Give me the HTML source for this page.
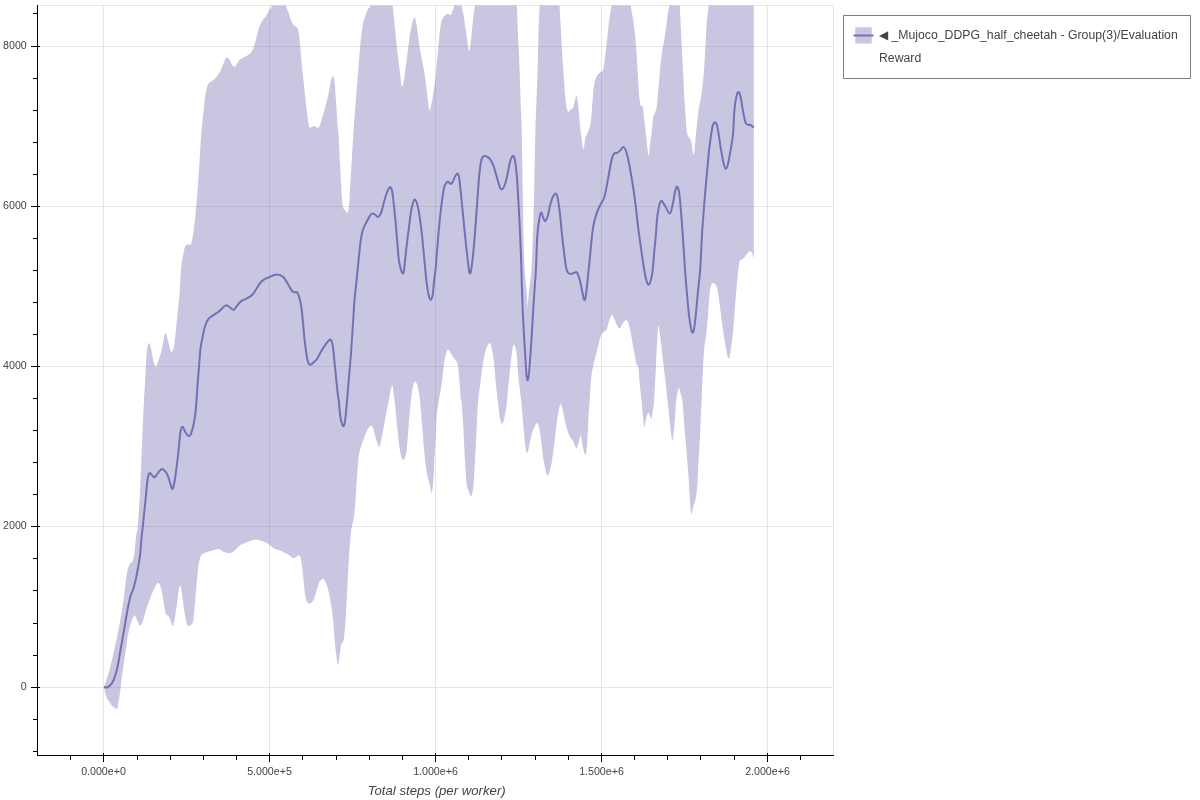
<!DOCTYPE html>
<html><head><meta charset="utf-8"><style>
html,body{margin:0;padding:0;background:#fff;width:1200px;height:800px;overflow:hidden;position:relative;font-family:"Liberation Sans", sans-serif}
</style></head><body>
<svg width="1200" height="800" viewBox="0 0 1200 800" style="position:absolute;left:0;top:0;will-change:transform">
<defs><clipPath id="fr"><rect x="37.5" y="5.5" width="796" height="750"/></clipPath></defs>
<rect x="37.5" y="5.5" width="796" height="750" fill="none" stroke="#e5e5e5" stroke-width="1"/>
<path d="M103.5 5.5V755.5M269.5 5.5V755.5M435.5 5.5V755.5M601.5 5.5V755.5M767.5 5.5V755.5M37.5 46.5H833.5M37.5 206.5H833.5M37.5 366.5H833.5M37.5 526.5H833.5M37.5 687.5H833.5" stroke="#e5e5e5" stroke-width="1" fill="none"/>
<g clip-path="url(#fr)">
<path d="M104 686.5 C104.1 686.4 104 687.4 104.5 686 C105 684.6 106.2 680.7 107 678 C107.8 675.3 108.8 672.7 109.5 670 C110.2 667.3 110.8 664.8 111.5 662 C112.2 659.2 112.8 656 113.5 653 C114.2 650 115 646.2 115.5 644 C116 641.8 116 642.4 116.5 640 C117 637.6 117.6 634.6 118.5 629.8 C119.4 625 120.8 617.3 121.8 611.4 C122.8 605.5 123.6 599.9 124.3 594.6 C125 589.3 125.4 583.8 126 579.6 C126.6 575.4 127 572.2 127.7 569.5 C128.4 566.8 129.4 565 130.2 563.6 C131 562.2 132 562.9 132.7 561.1 C133.4 559.3 133.8 557 134.4 552.8 C135 548.6 135.6 540.2 136.1 536 C136.6 531.8 137.1 533.2 137.7 527.6 C138.2 522 138.8 512.3 139.4 502.5 C140 492.7 140.4 481.6 141 469 C141.6 456.4 142.2 438.3 142.7 427.1 C143.2 415.9 143.5 409 143.9 402 C144.3 395 144.5 392 144.9 385.3 C145.3 378.6 145.7 368 146.1 361.8 C146.5 355.6 146.7 351.5 147.2 348.4 C147.7 345.3 148.4 343 149.1 343 C149.8 343 150.3 345.3 151.1 348.4 C151.8 351.5 152.8 358.7 153.6 361.8 C154.4 364.9 155 367.1 155.8 366.8 C156.6 366.5 157.6 363.2 158.6 360.1 C159.6 357 161 352.6 162 348.4 C163 344.2 163.8 337.4 164.5 335 C165.2 332.6 165.5 332.8 166.2 334.2 C166.9 335.6 167.9 340.5 168.7 343.4 C169.5 346.3 170.5 350.7 171.2 351.8 C171.9 352.9 172.3 351.5 172.9 350.1 C173.5 348.7 173.9 347.3 174.5 343.4 C175.1 339.5 175.6 332.2 176.2 326.6 C176.8 321 177.3 315.5 177.9 309.9 C178.5 304.3 179.1 300.1 179.6 293.1 C180.1 286.1 180.6 274.1 181.2 268 C181.8 261.9 182.3 259.7 182.9 256.3 C183.5 253 183.9 249.9 184.6 247.9 C185.3 245.9 186.1 245.2 187.1 244.6 C188.1 244 189.7 245.2 190.5 244.6 C191.3 244 191.2 243.7 191.8 241.2 C192.4 238.7 193.1 235.4 193.8 229.5 C194.6 223.6 195.6 213.5 196.3 206 C197 198.5 197.4 192.1 198 184.3 C198.6 176.5 199.1 167.5 199.7 159.1 C200.2 150.7 200.6 142.7 201.3 134 C202 125.3 203.2 113.9 203.9 107.2 C204.6 100.5 204.8 97.6 205.5 93.8 C206.2 90 207.2 86.5 208 84.6 C208.8 82.6 209.3 83.2 210.6 82.1 C211.9 81 214.1 79.6 215.6 77.9 C217.1 76.2 218.6 74.2 219.8 72 C221.1 69.8 222.1 66.7 223.1 64.5 C224.1 62.3 224.8 59.8 225.6 58.6 C226.3 57.4 226.9 57.2 227.6 57.5 C228.3 57.8 229 59 229.8 60.3 C230.6 61.6 231.6 64.2 232.3 65.3 C233.1 66.4 233.6 67.1 234.3 67 C235 66.9 235.7 65.6 236.5 64.5 C237.3 63.4 238 61.7 239 60.6 C240 59.5 241.1 58.9 242.4 58.1 C243.7 57.4 245.2 57 246.6 56.1 C248 55.2 249.7 54 250.8 52.8 C251.9 51.5 252.5 50.7 253.3 48.6 C254.1 46.5 255 43.3 255.8 40.2 C256.6 37.1 257.5 33 258.3 30.2 C259.1 27.4 260 25.3 260.8 23.5 C261.6 21.7 262.3 20.7 263.3 19.3 C264.3 17.9 265.7 16.6 266.7 15.1 C267.7 13.5 268.4 11.6 269.2 10 C270 8.4 270.9 9.6 271.7 5.4 C272.5 1.2 272.1 -11.6 274 -15 C275.9 -18.4 281 -18.4 283 -15 C285 -11.6 285 1 285.9 5.4 C286.8 9.9 287.6 9.2 288.4 11.7 C289.2 14.1 290 17.9 290.9 20.1 C291.8 22.3 292.5 23.9 293.5 25.1 C294.5 26.4 296 26.5 296.8 27.6 C297.6 28.7 298 29.1 298.5 31.8 C299 34.5 299.5 38.3 300 43.6 C300.5 48.9 301 56.5 301.7 63.7 C302.4 71 303.4 79.3 304.2 87.1 C305 94.9 305.9 104 306.7 110.6 C307.5 117.2 308.5 123.7 309.2 126.5 C309.9 129.3 310.1 127.4 310.9 127.3 C311.7 127.2 313.2 126 314.2 126 C315.2 126 316.1 127 316.8 127.3 C317.5 127.6 317.7 128.9 318.4 128.1 C319.1 127.3 319.8 125.8 320.9 122.3 C322 118.8 323.8 112 325.1 107.2 C326.4 102.5 327.5 98.3 328.5 93.8 C329.5 89.3 330.3 83.3 331 80.4 C331.7 77.5 332.1 76.2 332.7 76.2 C333.2 76.2 333.8 76.4 334.3 80.4 C334.9 84.5 335.4 92.7 336 100.5 C336.6 108.3 337.3 121.7 337.7 127.3 C338.1 132.9 338.1 127.3 338.5 134 C338.9 140.7 339.6 156.9 340.2 167.5 C340.8 178.1 341.4 191 341.9 197.7 C342.4 204.4 342.6 205.6 343.2 207.7 C343.8 209.8 344.5 209.4 345.2 210.2 C345.9 211 346.8 213.4 347.4 212.7 C348 212 348.6 210.7 349.1 206 C349.6 201.3 349.8 192.1 350.3 184.3 C350.8 176.5 351.4 167.5 351.9 159.1 C352.4 150.7 352.7 142.7 353.3 134 C353.9 125.3 354.6 117 355.3 107.2 C356.1 97.4 357 85.7 357.8 75.4 C358.6 65.1 359.5 53.6 360.3 45.2 C361.1 36.8 362 30 362.8 25.1 C363.6 20.2 364.5 18.6 365.3 15.9 C366.1 13.2 367 10.9 367.8 9.2 C368.6 7.4 369.5 9.4 370.4 5.4 C371.3 1.4 369.7 -11.6 373 -15 C376.3 -18.4 386.7 -18.4 390 -15 C393.3 -11.6 392 0.1 392.6 5.4 C393.2 10.7 393.3 12.1 393.8 16.8 C394.3 21.5 394.9 27.9 395.5 33.5 C396.1 39.1 396.5 44.1 397.2 50.3 C397.9 56.4 398.9 64.4 399.7 70.4 C400.5 76.4 401.1 84.6 401.8 86.3 C402.5 88 403.1 84.5 403.9 80.4 C404.7 76.4 405.6 68.4 406.4 62 C407.2 55.6 408.1 47.8 408.9 41.9 C409.7 36 410.5 30.9 411.4 26.8 C412.3 22.7 413.4 17.9 414.2 17.3 C415 16.8 415.6 19.4 416.4 23.5 C417.2 27.6 418.1 36.3 418.9 41.9 C419.7 47.5 420.5 52.2 421.4 57 C422.2 61.8 423.1 65.1 424 70.4 C424.9 75.7 425.7 82.4 426.5 88.8 C427.3 95.2 428.3 105.8 429 108.9 C429.7 112 430 109.7 430.7 107.2 C431.4 104.7 432.4 99.1 433.2 93.8 C434 88.5 434.9 82.9 435.7 75.4 C436.5 67.9 437.4 57 438.2 48.6 C439 40.2 439.9 30.3 440.7 25.1 C441.5 19.9 442.2 19.4 443.2 17.6 C444.2 15.8 445.6 14.8 446.6 14.2 C447.6 13.6 448.4 14 449.1 14.2 C449.8 14.3 450.3 15.5 450.8 15.1 C451.3 14.7 451.6 13.3 452.1 11.7 C452.7 10.1 453.5 9.9 454.1 5.4 C454.8 1 455 -11.6 456 -15 C457 -18.4 459.1 -18.4 460 -15 C460.9 -11.6 461.1 0.7 461.6 5.4 C462.2 10.1 462.6 9.3 463.3 13.4 C464 17.5 465.1 25.4 465.8 30.2 C466.5 35 466.9 38.4 467.5 41.9 C468.1 45.4 468.8 52.5 469.5 51.1 C470.2 49.7 471.1 39.2 471.7 33.5 C472.3 27.8 472.8 21.5 473.4 16.8 C473.9 12.1 474.4 10.7 475 5.4 C475.6 0.1 470.3 -11.6 477 -15 C483.7 -18.4 508.4 -18.4 515 -15 C521.6 -11.6 516.4 -1.3 516.8 5.4 C517.2 12.1 517.3 17.6 517.6 25.1 C517.9 32.6 518.4 41.9 518.8 50.3 C519.2 58.7 519.4 65.6 519.8 75.4 C520.1 85.2 520.6 99.1 520.9 108.9 C521.2 118.7 521.5 121.4 521.8 134 C522.1 146.6 522.3 167.6 522.6 184.3 C522.9 201.1 523.2 220.6 523.5 234.5 C523.8 248.4 524 258.2 524.5 268 C525 277.8 526.3 286.7 526.8 293.1 C527.3 299.5 527.3 306.5 527.6 306.5 C527.9 306.5 528.1 299.5 528.8 293.1 C529.4 286.7 530.7 280.6 531.5 268 C532.3 255.4 533 231.8 533.5 217.8 C534 203.9 534 198.3 534.3 184.3 C534.6 170.3 534.9 148 535.3 134 C535.7 120 536.1 111.7 536.5 100.5 C536.9 89.3 537.4 78.2 537.7 67 C538 55.8 538.2 43.8 538.5 33.5 C538.8 23.2 539.3 13.5 539.7 5.4 C540.1 -2.7 538 -11.6 541 -15 C544 -18.4 554.9 -18.4 558 -15 C561.1 -11.6 559.1 -1.3 559.5 5.4 C559.9 12.1 560.2 17.6 560.6 25.1 C561 32.6 561.5 41.9 562 50.3 C562.5 58.7 563.1 67 563.7 75.4 C564.3 83.8 565 94.5 565.7 100.5 C566.4 106.5 567 109.9 567.8 111.4 C568.6 112.9 569.5 110.3 570.4 109.7 C571.2 109.1 572.2 109.2 572.9 108 C573.6 106.8 573.9 104.2 574.5 102.2 C575.1 100.2 576 95 576.6 95.8 C577.2 96.6 577.8 102 578.4 107.2 C579 112.5 579.7 122.8 580.1 127.3 C580.5 131.8 580.5 130.4 581 134 C581.5 137.6 582.7 148.5 583.4 149.1 C584.1 149.7 584.8 139.9 585.4 137.4 C586 134.9 586.2 136.2 587.1 134 C588 131.8 589.7 128.5 590.5 124 C591.3 119.5 591.6 113.4 592.1 107.2 C592.6 101 593.1 92.1 593.8 87.1 C594.5 82.1 595.2 79.6 596.3 77.1 C597.4 74.6 599.4 73.1 600.5 72 C601.6 70.9 602.3 72.4 603 70.4 C603.7 68.5 604 65.6 604.7 60.3 C605.4 55 606.5 45.2 607.2 38.5 C608 31.8 608.5 25.6 609.2 20.1 C609.9 14.6 610.8 11.2 611.4 5.4 C612 -0.5 610.1 -11.6 613 -15 C615.9 -18.4 626 -18.4 629 -15 C632 -11.6 630 -0.5 630.7 5.4 C631.4 11.2 632.4 14 633.2 20.1 C634 26.2 635 34.1 635.7 41.9 C636.4 49.7 636.9 58.4 637.4 67 C637.9 75.7 638.5 87.4 639 93.8 C639.5 100.2 640.1 103.4 640.7 105.5 C641.3 107.6 642.2 104.4 642.7 106.4 C643.2 108.4 643.5 112.7 644 117.3 C644.5 121.9 645.1 127.6 645.9 134 C646.7 140.4 647.9 154.7 648.6 155.8 C649.4 156.9 649.9 144.3 650.4 140.7 C650.9 137.1 651.1 137.9 651.6 134 C652.1 130.1 652.5 121.8 653.3 117.3 C654.1 112.8 655.6 113.3 656.6 107.2 C657.6 101.1 658.3 89.1 659.1 80.4 C659.9 71.8 660.6 62.8 661.6 55.3 C662.6 47.8 664 41.6 665 35.2 C666 28.8 666.8 21.8 667.5 16.8 C668.2 11.8 668.6 10.7 669.2 5.4 C669.8 0.1 669.5 -11.6 671 -15 C672.5 -18.4 676.5 -18.4 678 -15 C679.5 -11.6 679.2 -1.9 679.7 5.4 C680.2 12.7 680.4 19.6 680.9 29 C681.4 38.4 682 50.8 682.6 62 C683.2 73.2 683.8 86.2 684.3 96 C684.8 105.8 685.4 114.3 685.9 120.6 C686.4 126.9 686.4 130.7 687.3 134 C688.1 137.3 690 137.2 691 140.7 C692 144.2 692.8 154.3 693.5 154.9 C694.2 155.5 694.7 147.5 695.1 144 C695.5 140.5 695.4 139.5 696 134 C696.6 128.5 697.7 117.1 698.5 111 C699.3 104.9 700.1 103.1 701 97.2 C701.9 91.3 702.9 83.2 703.6 75.4 C704.3 67.6 704.7 59.2 705.2 50.3 C705.8 41.4 706.3 29.3 706.9 21.8 C707.5 14.3 708.1 11.5 708.6 5.4 C709.1 -0.7 702.5 -11.6 710 -15 C717.5 -18.4 746.5 -15 753.8 -15 L753.8 259.1 C753.5 258.2 752.8 254.8 752.2 253.5 C751.6 252.2 751.2 251 750.4 251 C749.6 251 748.3 252.3 747.2 253.5 C746.1 254.7 744.8 257 743.8 258.1 C742.8 259.2 741.8 259.1 741 260 C740.2 260.9 739.8 259.4 739.1 263.8 C738.4 268.2 737.4 278.8 736.7 286.3 C736 293.8 735.4 301 734.8 308.8 C734.2 316.6 733.6 326.3 732.9 333.2 C732.2 340.1 731.5 345.8 730.7 350 C730 354.2 729.4 359.7 728.4 358.5 C727.4 357.3 726 348.4 725 342.6 C724 336.8 723.1 330.1 722.2 323.8 C721.3 317.5 720.6 310.6 719.8 305 C719 299.4 718.2 293.4 717.5 290 C716.8 286.6 716.2 285.5 715.3 284.4 C714.4 283.3 713.2 282.6 712.3 283.5 C711.4 284.4 710.7 284.9 710 290 C709.3 295.1 708.7 307.2 708.1 314.4 C707.5 321.6 707 326.9 706.3 333.2 C705.6 339.5 704.6 344.2 704 352 C703.4 359.8 702.9 371.7 702.5 380 C702.1 388.3 701.8 396.9 701.6 402 C701.4 407.1 701.4 404.8 701.1 410.4 C700.8 416 700.4 427.1 700 435.5 C699.6 443.9 699.1 452.2 698.6 460.6 C698.1 469 697.8 479.4 697.3 485.8 C696.8 492.2 696.3 495.9 695.6 499.2 C694.9 502.5 694 503.4 693.3 505.9 C692.6 508.4 692 515.3 691.4 514.2 C690.8 513.1 690.4 505.3 689.9 499.2 C689.4 493.1 689.1 485.2 688.6 477.4 C688.1 469.6 687.3 460.7 686.6 452.3 C685.9 443.9 685.1 435.5 684.4 427.1 C683.7 418.7 683.2 407.6 682.6 402 C682 396.4 681.2 396 680.6 393.6 C680 391.2 679.4 388.1 678.9 387.8 C678.4 387.5 678.1 389.6 677.6 392 C677.1 394.4 676.4 398.9 676 402 C675.6 405.1 675.8 406.2 675.5 410.4 C675.2 414.6 674.8 422.1 674.2 427.1 C673.7 432.1 673 441.9 672.2 440.5 C671.4 439.1 670.2 425.2 669.5 418.8 C668.8 412.4 668.5 409 667.7 402 C667 395 665.9 384.4 665 376.9 C664.1 369.4 663.3 363.8 662.5 356.8 C661.7 349.8 660.7 340.2 660 335 C659.3 329.8 658.9 325.8 658.5 325.8 C658.1 325.8 658 327.9 657.5 335 C657 342.1 656.4 357.3 655.8 368.5 C655.2 379.7 654.5 395 654 402 C653.5 409 653.2 407.6 652.8 410.4 C652.4 413.2 652.1 418 651.6 418.8 C651.1 419.6 650.5 416.4 649.9 415.4 C649.3 414.4 648.8 412.6 648.2 412.9 C647.7 413.2 647.2 414.8 646.6 417.1 C646 419.4 645 426.5 644.4 426.8 C643.8 427.1 643.7 422.9 643.2 418.8 C642.8 414.7 642.2 407.6 641.7 402 C641.2 396.4 640.5 391.2 639.9 385.3 C639.3 379.4 638.8 370.3 638.2 366.8 C637.6 363.3 637.1 366.2 636.5 364.3 C635.9 362.4 635.5 358.9 634.8 355.1 C634.1 351.3 633.1 346.2 632.3 341.7 C631.5 337.2 630.6 331.8 629.8 328.3 C629 324.8 628.1 322.1 627.3 320.8 C626.5 319.6 625.6 320.2 624.8 320.8 C624 321.4 623.1 322.9 622.3 324.1 C621.5 325.4 620.6 328 619.8 328.3 C619 328.6 618.1 327.2 617.3 325.8 C616.4 324.4 615.6 321.7 614.7 319.9 C613.9 318.1 612.9 315.4 612.2 314.9 C611.5 314.3 611.2 315.2 610.6 316.6 C610 318 609.2 321.1 608.5 323.3 C607.8 325.5 607.2 328.6 606.4 330 C605.6 331.4 604.8 330.9 603.9 331.7 C603 332.5 602.1 333.1 601.3 335 C600.4 336.9 599.6 340.3 598.8 343.4 C598 346.5 597.1 350 596.3 353.4 C595.5 356.8 594.6 359.6 593.8 363.5 C593 367.4 592 370.5 591.3 376.9 C590.6 383.3 590.1 395 589.6 402 C589.1 409 588.8 411.8 588.4 418.8 C588 425.8 587.6 437.9 587.1 443.9 C586.6 449.9 586.1 454.2 585.4 454.8 C584.7 455.4 583.7 450.4 582.9 447.2 C582.1 444 581.4 436.3 580.7 435.5 C580 434.7 579.4 440.1 578.7 442.2 C578 444.3 577.3 447.5 576.7 448.1 C576.1 448.7 575.5 446.9 574.9 445.6 C574.3 444.3 573.7 441.9 572.9 440.5 C572.1 439.1 571 439.1 570 437.2 C569 435.2 567.9 431.9 567 428.8 C566.1 425.7 565.3 422.4 564.5 418.8 C563.7 415.2 562.7 409.4 562 407 C561.3 404.6 561 403.1 560.3 404.5 C559.6 405.9 558.6 410.2 557.8 415.4 C557 420.6 556.1 428.8 555.3 435.5 C554.5 442.2 553.6 450 552.8 455.6 C552 461.2 551.1 465.7 550.3 469 C549.5 472.3 548.8 474.8 548.1 475.4 C547.4 476 546.9 474.9 546.1 472.4 C545.4 469.9 544.4 465.4 543.6 460.6 C542.8 455.9 542.2 449.2 541.5 443.9 C540.8 438.6 540.1 432.3 539.4 428.8 C538.7 425.3 537.9 423.4 537.2 422.9 C536.5 422.3 536.1 423.7 535.2 425.5 C534.3 427.3 532.8 430.4 531.8 433.8 C530.8 437.2 530.1 442.4 529.3 445.6 C528.5 448.8 527.8 453.4 527.1 453.1 C526.4 452.8 525.7 448.2 525.1 443.9 C524.5 439.6 524.1 434.1 523.5 427.1 C522.9 420.1 522.1 410.4 521.3 402 C520.4 393.6 519.1 384.7 518.4 376.9 C517.6 369.1 517.4 360.4 516.8 355.1 C516.2 349.8 515.3 346.2 514.6 345.1 C513.9 344 513.4 344.5 512.6 348.4 C511.9 352.3 511.1 359.6 510.1 368.5 C509.2 377.4 507.5 395.6 506.9 402 C506.3 408.4 506.8 404.2 506.4 407 C505.9 409.8 504.9 416 504.2 418.8 C503.5 421.6 502.7 423.8 502 423.8 C501.3 423.8 500.7 422.4 500 418.8 C499.3 415.2 498.7 407.6 498 402 C497.3 396.4 496.6 391.4 496 385.3 C495.4 379.2 495 371.4 494.3 365.2 C493.6 359 492.6 352.1 491.8 348.4 C491 344.7 490.3 342.7 489.3 343 C488.3 343.3 487 346.4 485.9 350.1 C484.8 353.8 483.6 359.3 482.6 365.2 C481.6 371.1 480.9 379.2 480.1 385.3 C479.3 391.4 478.6 395 478 402 C477.4 409 477.2 417.3 476.7 427.1 C476.2 436.9 475.6 450.8 475 460.6 C474.4 470.4 474 479.9 473.4 485.8 C472.8 491.7 471.9 495 471.2 496.1 C470.5 497.2 469.9 494.5 469.2 492.5 C468.4 490.5 467.4 489.4 466.7 484.1 C466 478.8 465.6 470.1 465 460.6 C464.4 451.1 463.9 436.9 463.3 427.1 C462.7 417.3 462 406.7 461.6 402 C461.2 397.3 461.2 402.9 460.8 398.7 C460.4 394.5 459.7 382.8 459.1 376.9 C458.6 371 458.3 366.6 457.5 363.5 C456.7 360.4 455.2 360.2 454.1 358.5 C453 356.8 451.8 354.9 450.8 353.4 C449.8 351.9 449 349.6 448.2 349.6 C447.4 349.6 446.8 351.1 446.1 353.4 C445.4 355.7 444.9 358.2 444.1 363.5 C443.3 368.8 442.4 378.9 441.5 385.3 C440.6 391.7 439.4 396.4 438.6 402 C437.8 407.6 437.1 410.4 436.5 418.8 C435.9 427.2 435.4 441.7 434.8 452.3 C434.2 462.9 433.8 475.7 433.2 482.4 C432.6 489.1 432.1 492.5 431.5 492.5 C430.9 492.5 430.1 485.5 429.3 482.4 C428.6 479.3 427.8 479 427 474 C426.2 469 425.1 460.1 424.3 452.3 C423.5 444.5 423 435.5 422.3 427.1 C421.6 418.7 420.9 408.4 420.2 402 C419.5 395.6 418.9 392 418.1 388.6 C417.3 385.2 416.4 382.2 415.6 381.6 C414.8 381.1 413.9 381.9 413.1 385.3 C412.3 388.7 411.6 395 410.8 402 C410 409 409.2 418.7 408.5 427.1 C407.8 435.5 407.3 446.9 406.4 452.3 C405.5 457.8 404.1 460.4 403 459.8 C401.9 459.2 400.7 454.3 399.7 448.9 C398.7 443.4 398 434.9 397.2 427.1 C396.4 419.3 395.4 407.3 394.8 402 C394.2 396.7 394.2 397.9 393.8 395.3 C393.4 392.7 393.1 387.2 392.6 386.1 C392.1 385 391.7 386 391 388.6 C390.3 391.2 389.2 398.6 388.6 402 C388 405.4 387.8 405.3 387.1 408.7 C386.4 412.1 385.4 417.6 384.6 422.1 C383.8 426.6 382.9 431.4 382.1 435.5 C381.3 439.6 380.4 445.3 379.6 446.4 C378.8 447.5 378.1 444.8 377.1 442.2 C376.1 439.6 374.7 433.3 373.7 430.5 C372.7 427.7 372.3 425.5 371.2 425.5 C370.1 425.5 368.2 428.3 367 430.5 C365.8 432.7 364.8 436 363.7 438.9 C362.6 441.8 361.5 445 360.6 448.1 C359.8 451.2 359.2 452.4 358.6 457.3 C358 462.2 357.6 469.9 357 477.4 C356.4 484.9 355.9 495.5 355.3 502.5 C354.7 509.5 354.2 515.4 353.6 519.3 C353 523.2 352.4 523.2 351.9 526 C351.4 528.8 351 532.1 350.6 536 C350.2 539.9 349.9 543.8 349.5 549.4 C349.1 555 348.7 562 348.3 569.5 C347.9 577 347.4 586.8 347 594.6 C346.6 602.4 346.2 610 345.8 616.4 C345.4 622.8 344.9 629 344.5 633.2 C344.1 637.4 343.9 639.5 343.3 641.5 C342.7 643.5 341.7 642.4 341.1 644.9 C340.5 647.4 340 653.2 339.5 656.6 C339 660 338.7 665.5 338.1 665 C337.5 664.5 336.7 658 336.1 653.3 C335.5 648.5 334.9 642.6 334.4 636.5 C333.8 630.4 333.5 622.5 332.8 616.4 C332.1 610.3 331.2 604.5 330.3 599.7 C329.4 595 328.6 591 327.7 587.9 C326.8 584.8 326 582.7 325.2 581.2 C324.4 579.7 323.7 578.6 322.7 578.7 C321.7 578.9 320.4 580.3 319.4 582.1 C318.4 583.9 317.8 587 316.9 589.6 C316 592.2 315.1 595.9 314.3 598 C313.5 600.1 312.9 601.4 311.8 602.2 C310.7 603 308.7 604.3 307.6 603 C306.5 601.7 305.8 598.5 305.1 594.6 C304.4 590.7 304.1 584.6 303.5 579.6 C302.9 574.6 302.4 568.5 301.8 564.5 C301.2 560.5 300.6 557.1 299.8 555.8 C299 554.4 297.9 556 296.8 556.4 C295.7 556.8 294.7 558.3 293.4 558.1 C292.1 557.9 290.7 556.2 289.2 555.3 C287.7 554.3 285.9 553.2 284.3 552.4 C282.7 551.5 281 550.8 279.3 550.2 C277.6 549.6 275.8 549.4 274.3 548.6 C272.8 547.8 271.5 546.2 270.1 545.2 C268.7 544.2 267.4 543.1 265.9 542.4 C264.4 541.6 262.6 541.2 260.9 540.7 C259.2 540.2 257.5 539.7 255.8 539.7 C254.1 539.7 252.5 540.2 250.8 540.7 C249.1 541.2 247.5 542 245.8 542.7 C244.1 543.4 242.2 543.9 240.8 544.7 C239.4 545.5 238.5 546.6 237.4 547.7 C236.3 548.8 235.1 550.2 234 551.1 C232.9 552 231.9 552.8 230.7 553.1 C229.4 553.4 227.9 553.1 226.5 552.8 C225.1 552.5 223.6 551.7 222.3 551.1 C221.1 550.5 220.4 549.2 219 549.1 C217.6 549 215.9 549.7 214 550.2 C212.1 550.7 209.3 551.2 207.3 551.9 C205.3 552.6 203.2 553.1 201.9 554.4 C200.6 555.7 200.3 557 199.7 559.5 C199 562 198.6 565 198 569.5 C197.4 574 197 580.1 196.4 586.3 C195.8 592.4 195.3 600.5 194.7 606.4 C194.1 612.2 193.8 618.2 193 621.4 C192.2 624.6 190.7 625 189.7 625.6 C188.7 626.2 188 626.9 187.2 624.8 C186.3 622.7 185.4 618.1 184.6 613.1 C183.8 608.1 182.8 599.2 182.1 594.6 C181.4 590 181.1 586.2 180.5 585.4 C179.9 584.6 179.4 586.7 178.8 589.6 C178.2 592.5 177.8 598 177.1 603 C176.4 608 175.3 615.9 174.6 619.8 C173.8 623.6 173.3 626.1 172.6 626.1 C171.9 626.1 171.2 621.5 170.4 619.8 C169.6 618 168.6 616.5 167.9 615.6 C167.2 614.8 166.8 616 166.2 614.7 C165.6 613.4 165.1 611.4 164.5 608 C163.9 604.6 163.1 598.2 162.4 594.6 C161.7 591 161.2 588.2 160.4 586.3 C159.6 584.3 158.8 582.6 157.8 582.9 C156.8 583.2 155.8 585.4 154.5 587.9 C153.2 590.4 151.7 594.4 150.3 598 C148.9 601.6 147.3 605.8 146.1 609.7 C144.8 613.6 143.8 618.8 142.8 621.4 C141.8 624 141.2 625.6 140.3 625.6 C139.5 625.6 138.5 623 137.7 621.4 C136.8 619.8 135.9 616.9 135.2 616.1 C134.5 615.3 134.3 615.2 133.6 616.4 C132.9 617.6 132 619.8 131 623.1 C130 626.5 128.4 632.7 127.7 636.5 C127 640.3 126.9 643.4 126.5 646 C126.1 648.6 125.9 649.3 125.5 652 C125.1 654.7 124.5 658.7 124 662 C123.5 665.3 122.9 669 122.5 672 C122.1 675 121.8 677.2 121.5 680 C121.2 682.8 120.8 686.3 120.5 689 C120.2 691.7 119.8 693.8 119.5 696 C119.2 698.2 118.8 700 118.5 702 C118.2 704 117.8 706.9 117.5 708 C117.2 709.1 117 708.8 116.5 708.8 C116 708.8 115.3 708.6 114.5 708 C113.7 707.4 112.5 706.2 111.5 705 C110.5 703.8 109.4 702.5 108.5 701 C107.6 699.5 106.7 698 106 696 C105.3 694 104.8 690.4 104.5 689 C104.2 687.6 104.1 687.8 104 687.5Z" fill="#7570b3" fill-opacity="0.4" stroke="none"/>
<path d="M104 687 C104.3 687.1 105.3 687.5 106 687.5 C106.7 687.5 107.3 687.3 108 687 C108.7 686.7 109.3 686.2 110 685.5 C110.7 684.8 111.3 684.1 112 683 C112.7 681.9 113.3 680.7 114 679 C114.7 677.3 115.4 675 116 673 C116.6 671 117 669.3 117.5 667 C118 664.7 118.5 661.8 119 659 C119.5 656.2 120 652.7 120.5 650 C121 647.3 121.3 645.8 121.8 643 C122.3 640.2 122.9 636.5 123.5 633.2 C124.1 629.9 124.6 626.5 125.2 623.1 C125.8 619.8 126.3 616.5 126.9 613.1 C127.5 609.8 128.2 606.1 128.9 603 C129.6 599.9 130.2 597.1 131 594.6 C131.8 592.1 132.8 590.7 133.6 587.9 C134.4 585.1 135.3 581.8 136.1 577.9 C136.9 574 137.9 568.7 138.6 564.5 C139.3 560.3 139.8 557.5 140.3 552.8 C140.8 548 141.3 540.2 141.7 536 C142.1 531.8 142.2 531.8 142.7 527.6 C143.1 523.4 143.8 516.5 144.4 510.9 C145 505.3 145.6 499.4 146.1 494.1 C146.6 488.8 147.1 482.5 147.7 479 C148.2 475.5 148.7 473.9 149.4 473.2 C150.1 472.5 151.1 474.2 151.9 474.9 C152.7 475.6 153.4 477.7 154.4 477.4 C155.4 477.1 156.7 474.5 157.8 473.2 C158.9 471.9 160.1 469.9 161.1 469.3 C162.1 468.7 162.7 469 163.7 469.8 C164.7 470.6 165.9 471.9 167 474 C168.1 476.1 169.2 479.9 170 482.4 C170.8 484.9 171.4 488.2 172 488.8 C172.6 489.4 173.1 488.3 173.7 485.8 C174.3 483.3 175.1 478.2 175.7 474 C176.3 469.8 176.9 464.8 177.4 460.6 C177.9 456.4 178.2 453.6 178.7 448.9 C179.2 444.2 179.8 435.9 180.4 432.2 C181.1 428.5 181.8 426.8 182.6 426.8 C183.4 426.8 184.4 430.7 185.4 432.2 C186.4 433.7 187.5 435.4 188.3 435.8 C189.2 436.2 189.7 436.1 190.5 434.7 C191.3 433.2 192.2 430.3 193 427.1 C193.8 423.9 194.5 419.6 195.1 415.4 C195.7 411.2 196 407 196.4 402 C196.8 397 197.1 390.9 197.5 385.3 C197.9 379.7 198.4 374.6 198.9 368.5 C199.4 362.4 199.8 354 200.5 348.4 C201.2 342.8 202.2 338.9 203 335 C203.8 331.1 204.5 327.8 205.5 325 C206.5 322.2 207.5 320 208.9 318.3 C210.3 316.6 212.2 316 213.9 314.9 C215.6 313.8 217.4 312.9 218.9 311.6 C220.4 310.4 221.8 308.5 223.1 307.4 C224.4 306.3 225.4 305.2 226.5 305.2 C227.6 305.2 228.6 306.6 229.8 307.4 C231 308.2 232.6 310 233.7 309.9 C234.8 309.8 235.3 307.9 236.5 306.5 C237.7 305.1 239.2 302.8 240.7 301.5 C242.2 300.2 243.9 300 245.7 299 C247.5 298 249.9 297.1 251.6 295.6 C253.3 294.1 254.4 291.9 255.8 289.8 C257.2 287.7 258.6 284.8 260 283.1 C261.4 281.4 262.7 280.4 264.2 279.4 C265.7 278.4 267.5 277.9 269.2 277.2 C270.9 276.5 272.7 275.4 274.2 275 C275.7 274.6 277 274.5 278.4 274.7 C279.8 274.9 281.4 275.4 282.6 276.4 C283.9 277.4 284.8 278.9 285.9 280.6 C287 282.3 288.2 284.6 289.3 286.4 C290.4 288.2 291.5 290.5 292.6 291.5 C293.7 292.5 295.1 292 296 292.3 C296.9 292.6 297 291.8 297.7 293.1 C298.4 294.4 299.3 297.2 300 300 C300.7 302.8 301.1 305.5 301.7 309.9 C302.3 314.3 302.8 321 303.4 326.6 C303.9 332.2 304.3 337.8 305 343.4 C305.7 349 306.6 356.5 307.5 360.1 C308.4 363.7 309.1 364.4 310.1 364.8 C311.1 365.2 312.3 363.5 313.4 362.6 C314.5 361.7 315.6 361.1 316.8 359.3 C318.1 357.5 319.5 354.2 320.9 351.8 C322.3 349.4 323.8 346.9 325.1 345.1 C326.4 343.3 327.6 341.8 328.5 340.9 C329.4 340 330 339 330.7 339.7 C331.4 340.4 332.1 341.7 332.7 345.1 C333.3 348.5 333.8 354.8 334.3 360.1 C334.9 365.4 335.4 371.3 336 376.9 C336.6 382.5 337.2 389.4 337.7 393.6 C338.2 397.8 338.5 398.4 338.9 402 C339.3 405.6 339.8 412 340.2 415.4 C340.6 418.8 341.1 420.7 341.6 422.5 C342.1 424.3 342.7 426.3 343.2 426.3 C343.7 426.3 344.4 424.6 344.8 422.5 C345.2 420.4 345.5 417.4 345.8 414 C346.1 410.6 346.5 406.8 346.9 402 C347.3 397.2 347.9 390.3 348.3 385 C348.8 379.7 349.1 375.5 349.6 370 C350.1 364.5 350.6 359 351.1 351.8 C351.6 344.6 352.2 335 352.8 326.6 C353.4 318.2 353.8 308.5 354.4 301.5 C354.9 294.5 355.5 290.4 356.1 284.8 C356.7 279.2 357.2 273.5 357.8 268 C358.4 262.5 358.9 256.5 359.4 252 C359.9 247.5 360.1 244.2 360.6 241 C361.1 237.8 361.6 235 362.2 232.5 C362.8 230 363.7 227.9 364.5 226 C365.3 224.1 366 222.9 367 221.1 C368 219.3 369.4 216.4 370.4 215.2 C371.4 213.9 372.1 213.6 372.9 213.6 C373.7 213.6 374.5 214.3 375.4 214.9 C376.3 215.5 377.2 217.3 378.2 216.9 C379.2 216.5 380.3 215.1 381.2 212.7 C382.1 210.3 382.9 205.8 383.8 202.7 C384.7 199.6 385.5 196.7 386.3 194.3 C387.1 191.9 388.1 189.6 388.8 188.4 C389.5 187.2 389.9 186.9 390.5 187.3 C391.1 187.7 391.6 188.2 392.1 191 C392.7 193.8 393.2 199.4 393.8 204.4 C394.4 209.4 394.9 215 395.5 221.1 C396.1 227.2 396.6 234.8 397.2 241.2 C397.8 247.6 398.2 255.1 398.8 259.6 C399.4 264.1 399.9 265.8 400.5 268 C401.1 270.2 401.6 272.6 402.2 273 C402.8 273.4 403.2 274.7 403.9 270.5 C404.6 266.3 405.6 255 406.4 247.9 C407.2 240.8 408.1 234.2 408.9 227.8 C409.7 221.4 410.6 213.9 411.4 209.4 C412.2 204.9 413 202.6 413.6 201 C414.2 199.4 414.6 199.1 415.2 199.7 C415.8 200.3 416.5 201.4 417.3 204.4 C418.1 207.4 419 212.2 419.8 217.8 C420.6 223.4 421.5 230.1 422.3 237.9 C423.1 245.7 424.1 257.4 424.8 264.6 C425.5 271.9 425.9 276.4 426.5 281.4 C427.1 286.4 427.9 291.7 428.6 294.8 C429.3 297.9 430 299.8 430.7 299.8 C431.4 299.8 432.1 297.9 432.7 294.8 C433.2 291.7 433.5 285.9 434 281.4 C434.5 276.9 435.2 273 435.7 268 C436.2 263 436.4 258 437 251.3 C437.6 244.6 438.2 235.6 439 227.8 C439.8 220 440.6 211.1 441.5 204.4 C442.4 197.7 443.2 191.2 444.1 187.6 C445 184 445.9 183.6 446.6 182.6 C447.3 181.6 447.5 181.5 448.2 181.7 C448.9 181.9 450.1 183.8 450.8 183.9 C451.5 184.1 451.7 183.8 452.4 182.6 C453.1 181.4 454 178.2 454.9 176.7 C455.8 175.2 456.8 173.2 457.5 173.4 C458.2 173.6 458.6 174.4 459.1 177.6 C459.7 180.8 460.1 185.9 460.8 192.6 C461.5 199.3 462.5 209.4 463.3 217.8 C464.1 226.2 465 235.1 465.8 242.9 C466.6 250.7 467.7 259.6 468.3 264.6 C468.9 269.6 469 271.9 469.5 272.7 C470 273.5 470.4 274.7 471.2 269.7 C472 264.7 473.3 252.9 474.2 242.9 C475.1 232.9 475.9 220.6 476.7 209.4 C477.5 198.2 478.4 184.3 479.2 175.9 C480 167.5 480.8 162.4 481.7 159.1 C482.6 155.8 483.4 156.5 484.3 156.1 C485.2 155.7 485.8 156.1 486.8 156.6 C487.8 157.1 489 157.6 490.1 159.1 C491.2 160.6 492.5 163.3 493.5 165.8 C494.5 168.3 494.9 170.6 496 174.2 C497.1 177.8 498.9 185.1 500 187.6 C501.1 190.1 501.7 189.4 502.5 188.9 C503.3 188.4 504.2 186.8 505 184.3 C505.8 181.9 506.6 178 507.5 174.2 C508.4 170.4 509.2 164.7 510.1 161.6 C511 158.5 511.8 156.2 512.6 155.8 C513.4 155.4 514 155.8 514.7 159.1 C515.4 162.4 516.2 168.9 516.8 175.9 C517.4 182.9 517.8 191.2 518.4 201 C519 210.8 519.6 223.3 520.1 234.5 C520.6 245.7 521.1 259.6 521.4 268 C521.7 276.4 521.5 276.4 521.8 284.8 C522.1 293.2 522.6 308.5 523.1 318.3 C523.6 328.1 524 335 524.5 343.4 C525 351.8 525.6 363 526 368.5 C526.4 374 526.4 374.5 526.7 376.5 C527 378.5 527.3 380.5 527.6 380.5 C527.9 380.5 528.3 378.5 528.6 376.5 C528.9 374.5 529 374 529.4 368.5 C529.8 363 530.7 351.8 531.2 343.4 C531.8 335 532.2 326.7 532.7 318.3 C533.2 309.9 533.8 301.5 534.3 293.1 C534.8 284.7 535.6 276.4 536 268 C536.4 259.6 536.5 250.2 536.9 242.9 C537.3 235.7 537.8 229.5 538.5 224.5 C539.2 219.5 540.2 213.8 541 212.7 C541.8 211.6 542.5 216.4 543.2 217.8 C543.9 219.2 544.5 221.4 545.2 221.1 C546 220.8 546.9 218.9 547.7 216.1 C548.6 213.3 549.4 207.8 550.3 204.4 C551.2 201.1 552.4 197.8 553.3 196 C554.2 194.2 555 193.1 555.8 193.5 C556.5 193.9 557.1 195 557.8 198.5 C558.5 202 559.3 208.4 560 214.4 C560.7 220.4 561.2 227.5 562 234.5 C562.8 241.5 563.8 250.7 564.5 256.3 C565.2 261.9 565.7 265.4 566.2 268 C566.8 270.6 567.1 271.2 567.8 272.2 C568.5 273.2 569.4 273.8 570.4 273.9 C571.4 274 572.7 273.3 573.7 273 C574.8 272.7 575.9 271.6 576.7 272.2 C577.5 272.8 578 274 578.7 276.4 C579.5 278.8 580.4 282.6 581.2 286.4 C582.1 290.2 583.1 297 583.8 299 C584.5 301 584.8 300.6 585.4 298.2 C586 295.8 586.5 289.8 587.1 284.8 C587.7 279.8 588.2 273.6 588.8 268 C589.4 262.4 589.8 258 590.5 251.3 C591.2 244.6 592 234 593 227.8 C594 221.7 595 218.3 596.3 214.4 C597.5 210.5 599.2 207.1 600.5 204.4 C601.8 201.8 602.9 201.3 603.9 198.5 C604.9 195.7 605.6 191.7 606.4 187.6 C607.2 183.5 608.1 178.7 608.9 174.2 C609.7 169.7 610.6 164.2 611.4 160.8 C612.2 157.4 612.9 155.1 613.9 153.8 C614.9 152.5 616.2 153.5 617.3 152.8 C618.4 152.2 619.5 150.9 620.6 149.9 C621.7 148.9 622.6 146.7 623.6 147.1 C624.6 147.5 625.5 149 626.5 152.4 C627.5 155.8 628.7 161.6 629.8 167.5 C630.9 173.4 632.2 181.2 633.2 187.6 C634.2 194 634.9 199.3 635.7 206 C636.5 212.7 637.2 219.7 638.2 227.8 C639.2 235.9 641 247.9 641.9 254.6 C642.8 261.3 643.2 263.8 643.9 268 C644.6 272.2 645.4 276.9 646.2 279.7 C647 282.5 647.8 285.1 648.7 284.8 C649.6 284.5 650.7 280.9 651.4 278.1 C652.1 275.3 652.4 272.4 652.9 268 C653.4 263.6 653.8 257 654.2 252 C654.7 247 655 244.3 655.6 238 C656.2 231.7 656.7 220.6 657.6 214.4 C658.5 208.2 659.6 202.4 660.9 201 C662.1 199.6 663.6 203.9 665.1 206 C666.6 208.1 668.5 213.9 669.8 213.6 C671.1 213.3 671.8 208.2 672.7 204.4 C673.6 200.6 674.5 193.9 675.2 191 C676 188.1 676.5 186.2 677.2 186.8 C677.9 187.4 678.7 189.1 679.4 194.3 C680.1 199.5 680.8 208.9 681.5 217.8 C682.2 226.7 683 239.5 683.6 247.9 C684.2 256.3 684.4 260.5 684.9 268 C685.4 275.5 686.1 284.7 686.9 293.1 C687.6 301.5 688.5 311.7 689.4 318.3 C690.3 324.9 691.4 331.7 692.3 332.5 C693.2 333.3 694 329.9 694.9 323.3 C695.8 316.7 696.9 302.3 697.8 293.1 C698.7 283.9 699.6 277.8 700.3 268 C701 258.2 701.3 245.7 702 234.5 C702.7 223.3 703.7 211.3 704.5 201 C705.3 190.7 706.2 180.9 707 172.5 C707.8 164.1 708.3 157.2 709 150.8 C709.7 144.4 710.6 138.2 711.2 134 C711.8 129.8 712.2 127.5 712.8 125.6 C713.4 123.6 714.2 122.3 714.9 122.3 C715.6 122.3 716.4 123.6 717 125.6 C717.6 127.5 717.9 129.8 718.6 134 C719.3 138.2 720.3 145.8 721.2 150.8 C722.1 155.8 723 161.2 723.8 164.2 C724.6 167.2 725.1 168.8 725.8 168.8 C726.5 168.8 727.1 167.2 727.9 164.2 C728.7 161.2 729.6 155.8 730.5 150.8 C731.4 145.8 732.3 141 733 134 C733.7 127 733.9 115.3 734.5 108.9 C735.1 102.5 736 98.3 736.7 95.5 C737.4 92.7 738 91.8 738.7 92.1 C739.4 92.4 740 94.1 740.7 97.2 C741.4 100.3 742.1 106.4 742.9 110.6 C743.7 114.8 744.6 119.9 745.4 122.3 C746.2 124.7 747 124.4 747.9 124.8 C748.8 125.2 749.5 124.3 750.5 124.8 C751.5 125.3 753.2 127.1 753.8 127.6" fill="none" stroke="#7570b3" stroke-width="2" stroke-linejoin="round"/>
</g>
<path d="M37.5 5V756M37 755.5H834M103.5 753.0V762.0M269.5 753.0V762.0M435.5 753.0V762.0M601.5 753.0V762.0M767.5 753.0V762.0M70.5 755.5V760.0M137.5 755.5V760.0M170.5 755.5V760.0M203.5 755.5V760.0M236.5 755.5V760.0M302.5 755.5V760.0M336.5 755.5V760.0M369.5 755.5V760.0M402.5 755.5V760.0M468.5 755.5V760.0M501.5 755.5V760.0M535.5 755.5V760.0M568.5 755.5V760.0M634.5 755.5V760.0M667.5 755.5V760.0M700.5 755.5V760.0M734.5 755.5V760.0M800.5 755.5V760.0M31.0 46.5H40.0M31.0 206.5H40.0M31.0 366.5H40.0M31.0 526.5H40.0M31.0 687.5H40.0M33.0 13.5H37.5M33.0 78.5H37.5M33.0 110.5H37.5M33.0 142.5H37.5M33.0 174.5H37.5M33.0 238.5H37.5M33.0 270.5H37.5M33.0 302.5H37.5M33.0 334.5H37.5M33.0 398.5H37.5M33.0 430.5H37.5M33.0 462.5H37.5M33.0 494.5H37.5M33.0 558.5H37.5M33.0 590.5H37.5M33.0 623.5H37.5M33.0 655.5H37.5M33.0 719.5H37.5M33.0 751.5H37.5" stroke="#000" stroke-width="1" fill="none"/>
<text x="103.5" y="774.8" text-anchor="middle" style='font-family:"Liberation Sans", sans-serif;font-size:10.67px;fill:#444'>0.000e+0</text>
<text x="269.5" y="774.8" text-anchor="middle" style='font-family:"Liberation Sans", sans-serif;font-size:10.67px;fill:#444'>5.000e+5</text>
<text x="435.5" y="774.8" text-anchor="middle" style='font-family:"Liberation Sans", sans-serif;font-size:10.67px;fill:#444'>1.000e+6</text>
<text x="601.5" y="774.8" text-anchor="middle" style='font-family:"Liberation Sans", sans-serif;font-size:10.67px;fill:#444'>1.500e+6</text>
<text x="767.5" y="774.8" text-anchor="middle" style='font-family:"Liberation Sans", sans-serif;font-size:10.67px;fill:#444'>2.000e+6</text>
<text x="26.8" y="49.3" text-anchor="end" style='font-family:"Liberation Sans", sans-serif;font-size:10.67px;fill:#444'>8000</text>
<text x="26.8" y="209.3" text-anchor="end" style='font-family:"Liberation Sans", sans-serif;font-size:10.67px;fill:#444'>6000</text>
<text x="26.8" y="369.3" text-anchor="end" style='font-family:"Liberation Sans", sans-serif;font-size:10.67px;fill:#444'>4000</text>
<text x="26.8" y="529.3" text-anchor="end" style='font-family:"Liberation Sans", sans-serif;font-size:10.67px;fill:#444'>2000</text>
<text x="26.8" y="690.3" text-anchor="end" style='font-family:"Liberation Sans", sans-serif;font-size:10.67px;fill:#444'>0</text>
<text x="436.7" y="795" text-anchor="middle" style='font-family:"Liberation Sans", sans-serif;font-size:13.2px;font-style:italic;fill:#444'>Total steps (per worker)</text>
<rect x="843.5" y="15.5" width="347" height="63" fill="#fff" stroke="#000" stroke-opacity="0.5" stroke-linejoin="bevel" stroke-width="1"/>
<rect x="855.25" y="27.25" width="16.5" height="16.3" fill="#7570b3" fill-opacity="0.4"/>
<path d="M853.5 35.5H873.5" stroke="#7570b3" stroke-width="2"/>
<text x="879" y="38.8" style='font-family:"Liberation Sans", sans-serif;font-size:12.27px;fill:#444'>◀ _Mujoco_DDPG_half_cheetah - Group(3)/Evaluation</text>
<text x="879" y="61.8" style='font-family:"Liberation Sans", sans-serif;font-size:12.27px;fill:#444'>Reward</text>
</svg>
</body></html>
